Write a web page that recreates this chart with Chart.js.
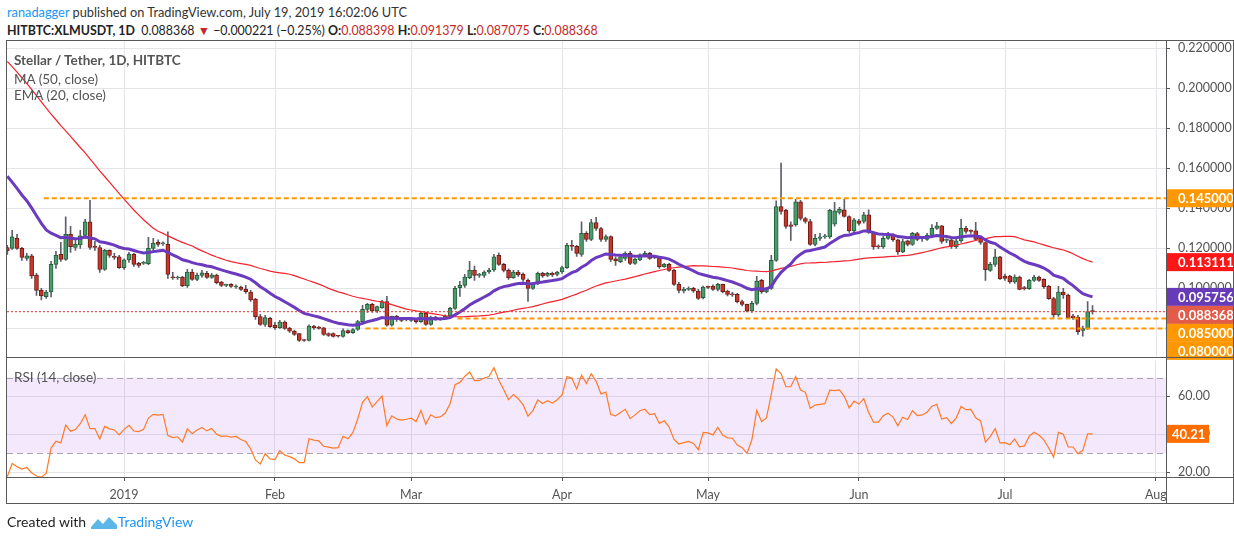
<!DOCTYPE html>
<html><head><meta charset="utf-8">
<script src="https://cdn.jsdelivr.net/npm/chart.js@4.4.1/dist/chart.umd.min.js"></script>
<style>
body{margin:0;width:1234px;height:540px;background:#fff;overflow:hidden;font-family:Lato,"Noto Sans",sans-serif;position:relative}
.abs{position:absolute}
#h1{left:7px;top:4px;font-size:12.8px;color:#333}
#h2{left:7px;top:23px;font-size:12.4px;color:#222}
#h2 b{font-weight:700}
.r{color:#c62828}
.leg{left:14px;font-size:13.5px;color:#555}
.ln{position:absolute;background:#5a5a5a;pointer-events:none}
#foot{left:7px;top:513px;font-size:14px;color:#222;display:flex;align-items:center}
</style></head><body>
<div id="h1" class="abs"><span style="color:#2196f3">ranadagger</span> published on TradingView.com, July 19, 2019 16:02:06 UTC</div>
<div id="h2" class="abs"><b>HITBTC:XLMUSDT, 1D</b>&nbsp; 0.088368 <span class="r">▼</span> −0.000221 (−0.25%) <b>O:</b><span class="r">0.088398</span> <b>H:</b><span class="r">0.091379</span> <b>L:</b><span class="r">0.087075</span> <b>C:</b><span class="r">0.088368</span></div>
<div class="abs" style="left:0;top:0;width:1234px;height:372px"><canvas id="main"></canvas></div>
<div class="abs" style="left:0;top:345px;width:1234px;height:195px"><canvas id="rsi"></canvas></div>
<div class="abs leg" style="top:52px;font-weight:700">Stellar / Tether, 1D, HITBTC</div>
<div class="abs leg" style="top:71px">MA (50, close)</div>
<div class="abs leg" style="top:87px">EMA (20, close)</div>
<div class="abs leg" style="top:369px">RSI (14, close)</div>
<div class="ln" style="left:6px;top:40px;width:1228px;height:1px"></div>
<div class="ln" style="left:6px;top:357px;width:1228px;height:1px"></div>
<div class="ln" style="left:6px;top:477px;width:1228px;height:1px"></div>
<div class="ln" style="left:6px;top:503px;width:1228px;height:1px"></div>
<div class="ln" style="left:6px;top:40px;width:1px;height:464px"></div>
<div class="ln" style="left:1166px;top:40px;width:1px;height:464px"></div>
<div class="ln" style="left:1233px;top:40px;width:1px;height:464px"></div>
<div id="foot" class="abs">Created with&nbsp;<svg width="28" height="16" viewBox="0 0 28 16"><path d="M1 13 L8 5 L13 10 L19 3 L27 11 L27 15 L1 15Z" fill="#5bb7e8"/></svg><span style="color:#2196f3">TradingView</span></div>
<script>
const preCloses=[.252,.255,.258,.256,.254,.257,.255,.253,.256,.258,.260,.262,.259,.257,.261,.264,.268,.272,.266,.262,.258,.260,.257,.255,.252,.250,.248,
.235,.232,.228,.225,.200,.175,.170,.160,.163,.150,.155,.150,.170,.165,.160,.158,.150,.143,.140,.135,.128,.122,.120];
const opens=[.1204,.1200,.1250,.1200,.1149,.1162,.1067,.0990,.0959,.0982,
.1120,.1170,.1145,.1270,.1204,.1217,.1265,.1332,.1207,.1204,
.1095,.1190,.1160,.1157,.1104,.1142,.1170,.1125,.1125,.1123,
.1200,.1230,.1222,.1220,.1057,.1052,.1057,.1012,.1082,.1045,
.1065,.1075,.1055,.1067,.1032,.1015,.1020,.1007,.1007,.0997,
.0982,.0947,.0859,.0820,.0850,.0817,.0804,.0832,.0802,.0787,
.0774,.0741,.0740,.0812,.0807,.0803,.0774,.0774,.0762,.0760,
.0790,.0779,.0795,.0834,.0895,.0920,.0887,.0904,.0934,.0817,
.0860,.0850,.0842,.0840,.0845,.0834,.0875,.0820,.0857,.0845,
.0848,.0862,.0900,.1004,.1015,.1054,.1092,.1065,.1065,.1082,
.1092,.1165,.1120,.1090,.1054,.1082,.1070,.1040,.1000,.1024,
.1075,.1065,.1075,.1070,.1082,.1104,.1215,.1210,.1170,.1275,
.1245,.1329,.1299,.1245,.1259,.1147,.1134,.1150,.1175,.1125,
.1142,.1165,.1175,.1157,.1154,.1109,.1120,.1090,.1020,.0987,
.0995,.1000,.0987,.0954,.1007,.1012,.0995,.1020,.0987,.0970,
.0970,.0934,.0920,.0887,.0925,.1040,.0982,.1000,.1140,.1409,
.1390,.1317,.1317,.1432,.1349,.1334,.1220,.1250,.1257,.1257,
.1320,.1379,.1392,.1359,.1287,.1337,.1334,.1367,.1279,.1209,
.1207,.1250,.1267,.1242,.1182,.1237,.1220,.1274,.1250,.1245,
.1265,.1300,.1312,.1240,.1242,.1207,.1237,.1300,.1287,.1287,
.1250,.1229,.1090,.1120,.1157,.1062,.1062,.1032,.1057,.1000,
.0999,.1040,.1057,.1045,.1012,.0949,.0867,.0982,.0967,.0862,
.0857,.0790,.0800,.088398];
const closes=[.1187,.1257,.1200,.1154,.1162,.1062,.0990,.0962,.0982,.1120,
.1165,.1145,.1270,.1208,.1220,.1262,.1332,.1204,.1205,.1095,
.1190,.1165,.1154,.1104,.1142,.1170,.1120,.1115,.1128,.1200,
.1225,.1220,.1225,.1070,.1053,.1057,.1012,.1082,.1045,.1065,
.1078,.1055,.1067,.1029,.1015,.1016,.1010,.1012,.0995,.0984,
.0942,.0859,.0820,.0854,.0809,.0804,.0832,.0800,.0787,.0770,
.0740,.0740,.0812,.0804,.0800,.0770,.0765,.0760,.0761,.0790,
.0779,.0795,.0834,.0895,.0920,.0887,.0909,.0934,.0817,.0860,
.0845,.0840,.0843,.0847,.0834,.0875,.0820,.0857,.0845,.0848,
.0862,.0900,.1000,.1015,.1057,.1092,.1065,.1066,.1082,.1092,
.1157,.1120,.1090,.1054,.1082,.1067,.1045,.1000,.1024,.1075,
.1062,.1075,.1067,.1082,.1104,.1215,.1210,.1175,.1275,.1245,
.1329,.1299,.1245,.1259,.1145,.1137,.1157,.1175,.1125,.1145,
.1167,.1175,.1150,.1154,.1109,.1120,.1090,.1020,.0990,.0995,
.0999,.0987,.0950,.1007,.1005,.0995,.1020,.0984,.0970,.0968,
.0934,.0920,.0887,.0925,.1037,.0984,.1000,.1140,.1409,.1384,
.1309,.1309,.1432,.1349,.1334,.1220,.1250,.1257,.1262,.1390,
.1387,.1395,.1359,.1287,.1342,.1324,.1367,.1279,.1207,.1207,
.1250,.1267,.1242,.1182,.1234,.1220,.1275,.1245,.1249,.1265,
.1300,.1312,.1234,.1242,.1209,.1237,.1300,.1284,.1285,.1245,
.1229,.1094,.1120,.1157,.1049,.1050,.1032,.1057,.0995,.0999,
.1040,.1057,.1040,.1009,.0949,.0867,.0982,.0967,.0854,.0854,
.0784,.0800,.0884,.088368];
const highs=[.1215,.1290,.1270,.1205,.1175,.1170,.1075,.1000,.0990,.1135,
.1185,.1230,.1357,.1310,.1240,.1290,.1345,.1440,.1235,.1215,
.1195,.1192,.1175,.1165,.1148,.1180,.1175,.1130,.1135,.1255,
.1250,.1242,.1232,.1282,.1080,.1062,.1060,.1095,.1095,.1077,
.1090,.1085,.1075,.1072,.1035,.1022,.1024,.1018,.1012,.1015,
.0990,.0950,.0870,.0865,.0855,.0830,.0840,.0838,.0805,.0792,
.0776,.0745,.0818,.0815,.0810,.0805,.0778,.0778,.0766,.0798,
.0793,.0800,.0840,.0915,.0925,.0925,.0912,.0940,.0960,.0862,
.0865,.0852,.0848,.0852,.0850,.0882,.0880,.0862,.0860,.0853,
.0868,.0905,.1010,.1035,.1070,.1135,.1112,.1075,.1088,.1100,
.1170,.1177,.1125,.1098,.1090,.1090,.1078,.1048,.1030,.1082,
.1080,.1080,.1082,.1085,.1112,.1225,.1240,.1215,.1332,.1284,
.1345,.1355,.1305,.1268,.1262,.1158,.1165,.1182,.1185,.1150,
.1172,.1185,.1180,.1162,.1160,.1125,.1125,.1095,.1030,.1005,
.1008,.1005,.0995,.1012,.1012,.1018,.1025,.1022,.0992,.0980,
.0975,.0942,.0922,.0935,.1060,.1045,.1005,.1165,.1437,.1625,
.1395,.1332,.1445,.1440,.1355,.1345,.1270,.1275,.1270,.1395,
.1430,.1405,.1445,.1362,.1350,.1345,.1380,.1392,.1285,.1218,
.1260,.1280,.1272,.1246,.1246,.1240,.1280,.1280,.1255,.1275,
.1318,.1330,.1315,.1248,.1246,.1250,.1345,.1310,.1292,.1330,
.1260,.1232,.1130,.1195,.1160,.1072,.1065,.1068,.1062,.1010,
.1045,.1065,.1062,.1048,.1015,.0955,.1010,.1000,.0972,.0870,
.0865,.0812,.0934,.091379];
const lows=[.1170,.1195,.1195,.1140,.1140,.1050,.0965,.0943,.0950,.0958,
.1100,.1135,.1140,.1180,.1190,.1200,.1250,.1195,.1190,.1080,
.1090,.1155,.1145,.1100,.1095,.1130,.1110,.1105,.1120,.1118,
.1180,.1210,.1215,.1050,.1045,.1045,.1008,.1005,.1040,.1038,
.1055,.1050,.1050,.1022,.1008,.1008,.1005,.1000,.0990,.0975,
.0935,.0845,.0815,.0810,.0805,.0795,.0800,.0795,.0780,.0765,
.0735,.0735,.0738,.0795,.0797,.0765,.0760,.0757,.0756,.0757,
.0775,.0775,.0790,.0830,.0880,.0880,.0880,.0900,.0812,.0812,
.0835,.0834,.0838,.0835,.0826,.0830,.0815,.0815,.0840,.0840,
.0845,.0858,.0895,.0960,.1005,.1048,.1040,.1055,.1055,.1075,
.1085,.1115,.1082,.1045,.1050,.1060,.1035,.0935,.0995,.1018,
.1055,.1058,.1058,.1062,.1075,.1100,.1190,.1160,.1160,.1235,
.1238,.1290,.1235,.1235,.1135,.1115,.1128,.1140,.1118,.1120,
.1138,.1160,.1145,.1148,.1100,.1105,.1085,.1015,.0978,.0978,
.0990,.0980,.0945,.0948,.0998,.0990,.0988,.0978,.0962,.0960,
.0928,.0912,.0882,.0880,.0918,.0975,.0978,.0995,.1135,.1370,
.1300,.1240,.1310,.1340,.1325,.1215,.1212,.1240,.1250,.1250,
.1310,.1370,.1355,.1280,.1280,.1315,.1325,.1275,.1195,.1198,
.1200,.1245,.1235,.1170,.1178,.1212,.1215,.1238,.1235,.1240,
.1258,.1295,.1225,.1228,.1200,.1200,.1230,.1275,.1275,.1240,
.1220,.1040,.1085,.1110,.1045,.1040,.1025,.1025,.0992,.0992,
.0995,.1035,.1035,.1000,.0945,.0855,.0860,.0950,.0850,.0845,
.0770,.0762,.0795,.087075];
const monthTicks=[24,55,83,114,144,175,205,236];
const monthLabels=['2019','Feb','Mar','Apr','May','Jun','Jul','Aug'];
const priceTicks=[0.08,0.10,0.12,0.14,0.16,0.18,0.20,0.22];
const rsiTicks=[20,40,60];
const levels=[{v:0.145,from:7.5},{v:0.085,from:92.5},{v:0.080,from:73.6}];
const lastPrice=0.088368;

const all=preCloses.concat(closes), P=preCloses.length;
function sma(n){return all.map((_,i)=>{if(i<n-1)return null;let s=0;for(let k=i-n+1;k<=i;k++)s+=all[k];return s/n;});}
function ema(n){const a=2/(n+1);let e=all[0];return all.map((v,i)=>{e=i?a*v+(1-a)*e:v;return e;});}
function rsi(n){const out=[];let ag=0,al=0;for(let i=1;i<all.length;i++){const d=all[i]-all[i-1],g=Math.max(d,0),l=Math.max(-d,0);if(i<=n){ag+=g/n;al+=l/n;}else{ag=(ag*(n-1)+g)/n;al=(al*(n-1)+l)/n;}out[i]=i<n?null:100-100/(1+ag/(al||1e-9));}return out;}
const ma50=sma(50).slice(P), ema20=ema(20).slice(P), rsi14=rsi(14).slice(P);
const idx=closes.map((_,i)=>i);
const up=idx.map(i=>closes[i]>=opens[i]);
const X0=-0.06, X1=238.1;

const grid='#e3e5e8', tickFont={family:'Lato, "Noto Sans", sans-serif',size:12.5};
function xScale(showLabels){return {type:'linear',min:X0,max:X1,offset:false,display:showLabels,
  afterBuildTicks:s=>{s.ticks=monthTicks.map(v=>({value:v}));},
  ticks:{display:showLabels,color:'#555',font:tickFont,padding:6,autoSkip:false,maxRotation:0,callback:(v)=>monthLabels[monthTicks.indexOf(v)]},
  grid:{color:grid,drawTicks:showLabels,tickLength:4,tickColor:'#555',offset:false},border:{display:false},
  afterFit:s=>{s.height=showLabels?63:0;}};}
const vgridPlugin={id:'vgrid',beforeDatasetsDraw(c){const ctx=c.ctx,a=c.chartArea,x=c.scales.x;
  ctx.save();ctx.strokeStyle=grid;ctx.lineWidth=1;monthTicks.forEach(v=>{const p=Math.round(x.getPixelForValue(v))+0.5;
  ctx.beginPath();ctx.moveTo(p,a.top);ctx.lineTo(p,a.bottom);ctx.stroke();});ctx.restore();}};

function tagPlugin(id,tags){return {id,afterDraw(c){
  const ctx=c.ctx,y=c.scales.y;let list=tags.map(t=>({...t,py:y.getPixelForValue(t.v)})).sort((a,b)=>a.py-b.py);
  let prev=-1e9;const H=18;
  list.forEach(t=>{let py=Math.max(t.py,prev+H);prev=py;t.dy=py;});
  ctx.save();list.forEach(t=>{ctx.fillStyle=t.bg;ctx.fillRect(1167,t.dy-H/2,t.w||67,H);
    ctx.fillStyle='#fff';ctx.font='bold 13px Lato, "Noto Sans", sans-serif';ctx.textBaseline='middle';ctx.fillText(t.text,t.tx||1178,t.dy+0.5);});
  ctx.restore();}};}

const candleColor=i=>up[i]?'#4c9b6c':'#c5372c';
const candleBorder=i=>up[i]?'#245f3c':'#6e1c14';

new Chart(document.getElementById('main'),{
  data:{datasets:[
    {type:'bar',data:idx.map(i=>({x:i,y:[lows[i],highs[i]]})),backgroundColor:'#5d606b',barThickness:1,grouped:false,order:5},
    {type:'bar',data:idx.map(i=>({x:i,y:[Math.min(opens[i],closes[i]),Math.max(opens[i],closes[i])]})),
      backgroundColor:idx.map(candleColor),borderColor:idx.map(candleBorder),borderWidth:1,borderSkipped:false,barThickness:4,minBarLength:1,grouped:false,order:4},
    {type:'line',data:idx.map(i=>({x:i,y:ma50[i]})),borderColor:'#f5222d',borderWidth:1.2,pointRadius:0,order:3},
    {type:'line',data:idx.map(i=>({x:i,y:ema20[i]})),borderColor:'#6a3bbf',borderWidth:3,pointRadius:0,order:2},
    {type:'line',data:[{x:X0,y:lastPrice},{x:X1,y:lastPrice}],borderColor:'#e0392b',borderWidth:1,borderDash:[2,2],pointRadius:0,order:1},
    ...levels.map(l=>({type:'line',data:[{x:l.from,y:l.v},{x:X1,y:l.v}],borderColor:'#ff9800',borderWidth:2,borderDash:[5,3],pointRadius:0,order:0}))
  ]},
  options:{animation:false,responsive:true,maintainAspectRatio:false,events:[],
    layout:{padding:{left:7,top:41,right:0,bottom:2}},
    plugins:{legend:{display:false},tooltip:{enabled:false}},
    scales:{x:xScale(false),
      y:{position:'right',min:0.066,max:0.2235,afterBuildTicks:s=>{s.ticks=priceTicks.map(v=>({value:v}));},
        ticks:{color:'#555',font:tickFont,padding:8,callback:v=>v.toFixed(6)},
        grid:{color:grid,drawTicks:true,tickLength:4,tickColor:'#555'},border:{display:false},afterFit:s=>{s.width=68;}}}},
  plugins:[vgridPlugin,tagPlugin('tags',[
    {v:0.145,bg:'#ff9800',text:'0.145000'},
    {v:ma50[ma50.length-1],bg:'#ff1616',text:ma50[ma50.length-1].toFixed(6)},
    {v:ema20[ema20.length-1],bg:'#673ab7',text:ema20[ema20.length-1].toFixed(6)},
    {v:lastPrice,bg:'#e25c49',text:'0.088368'},
    {v:0.085,bg:'#ff9800',text:'0.085000'},
    {v:0.080,bg:'#ff9800',text:'0.080000'}])]
});

const bandPlugin={id:'band',beforeDatasetsDraw(c){const ctx=c.ctx,y=c.scales.y,a=c.chartArea;
  const y70=y.getPixelForValue(70),y30=y.getPixelForValue(30);
  ctx.save();ctx.fillStyle='rgba(170,80,240,0.13)';ctx.fillRect(a.left,y70,a.right-a.left,y30-y70);
  ctx.strokeStyle='#aaa3b0';ctx.setLineDash([6,4]);ctx.lineWidth=1;
  [y70,y30].forEach(p=>{ctx.beginPath();ctx.moveTo(a.left,Math.round(p)+0.5);ctx.lineTo(a.right,Math.round(p)+0.5);ctx.stroke();});
  ctx.restore();}};
const lastRsi=rsi14[rsi14.length-1];
new Chart(document.getElementById('rsi'),{
  data:{datasets:[{type:'line',data:idx.map(i=>({x:i,y:rsi14[i]})),borderColor:'#ff7a26',borderWidth:1.2,pointRadius:0}]},
  options:{animation:false,responsive:true,maintainAspectRatio:false,events:[],
    layout:{padding:{left:7,top:0,right:0,bottom:0}},
    plugins:{legend:{display:false},tooltip:{enabled:false}},
    scales:{x:xScale(true),
      y:{position:'right',min:17.4,max:79,afterBuildTicks:s=>{s.ticks=rsiTicks.map(v=>({value:v}));},
        ticks:{color:'#555',font:tickFont,padding:8,callback:v=>v.toFixed(2)},
        grid:{color:grid,tickLength:4,tickColor:'#555'},border:{display:false},afterFit:s=>{s.width=68;}}}},
  plugins:[bandPlugin,tagPlugin('rtag',[{v:lastRsi,bg:'#ff6d00',text:lastRsi.toFixed(2),w:42,tx:1172}])]
});
</script></body></html>
